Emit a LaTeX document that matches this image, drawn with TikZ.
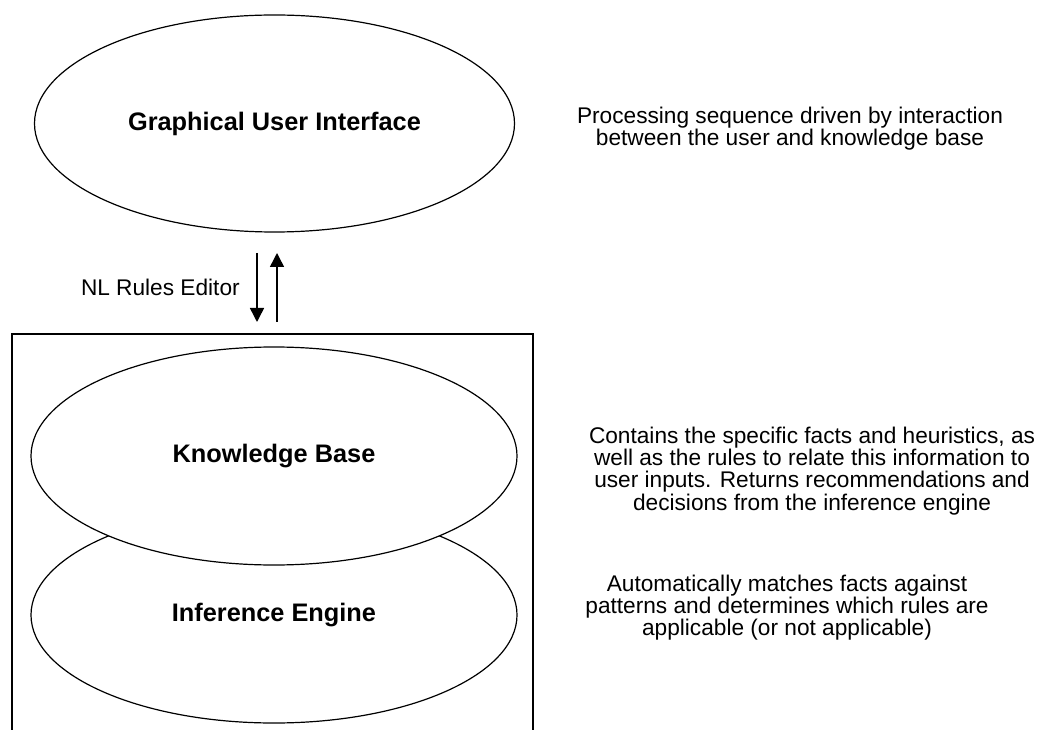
\documentclass[tikz,border=0pt]{standalone}
\usepackage{fontspec}
\setmainfont{Liberation Sans}
\usetikzlibrary{shapes.geometric,arrows.meta}
\begin{document}
\begin{tikzpicture}[x=0.75pt,y=-0.75pt,
  oval/.style={ellipse,draw=black,line width=0.9pt,inner sep=0pt,fill=white,
    font=\fontsize{19}{21}\selectfont\bfseries},
  desc/.style={align=center,inner sep=0pt,font=\fontsize{17}{16.6}\selectfont},
  flow/.style={line width=1.1pt,-{Triangle[length=10.5pt,width=10.5pt]}},
  frame/.style={line width=1.3pt}]
\useasboundingbox (0,0) rectangle (1044,730);
% frame around knowledge base / inference engine
\coordinate (fbl) at (12,731);
\coordinate (ftl) at (12,334);
\coordinate (ftr) at (533,334);
\coordinate (fbr) at (533,731);
\draw[frame] (fbl) -- (ftl) -- (ftr) -- (fbr);
% ellipses
\node[oval,minimum width=360pt,minimum height=162.75pt] (gui) at (274.5,123.5) {Graphical User Interface};
\node[oval,minimum width=364.5pt,minimum height=162pt] (ie) at (274,615) {Inference Engine};
\node[oval,minimum width=364.5pt,minimum height=163.5pt] (kb) at (274,456) {Knowledge Base};
% arrows
\coordinate (d1) at (257,253);
\coordinate (d2) at (257,322);
\coordinate (u1) at (277,322);
\coordinate (u2) at (277,253);
\draw[flow] (d1) -- (d2);
\draw[flow] (u1) -- (u2);
\node[desc,anchor=east] (nl) at (240,287) {NL Rules Editor};
% descriptions
\node[desc] (dgui) at (790,129) {Processing sequence driven by interaction\\between the user and knowledge base};
\node[desc] (dkb) at (812,471) {Contains the specific facts and heuristics, as\\well as the rules to relate this information to\\user inputs. Returns recommendations and\\decisions from the inference engine};
\node[desc] (die) at (787,608) {Automatically matches facts against\\patterns and determines which rules are\\applicable (or not applicable)};
\end{tikzpicture}
\end{document}
